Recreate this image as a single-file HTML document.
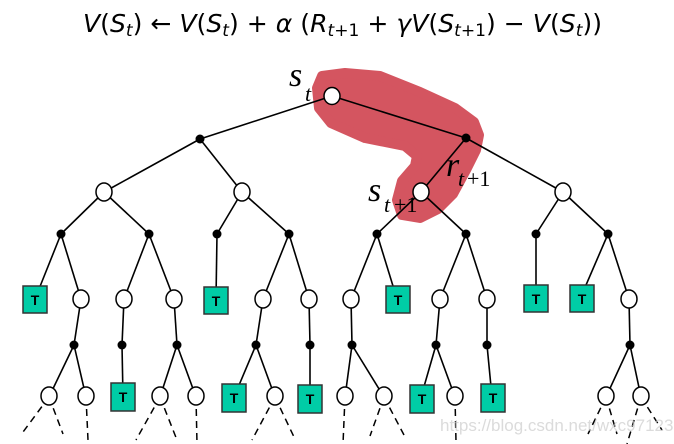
<!DOCTYPE html>
<html><head><meta charset="utf-8"><style>
html,body{margin:0;padding:0;background:#fff;}
svg{display:block;}
</style></head><body>
<svg width="674" height="444" viewBox="0 0 674 444" xmlns="http://www.w3.org/2000/svg">
<text x="83" y="32" font-family="DejaVu Sans, Liberation Sans, sans-serif" font-size="25" textLength="519" lengthAdjust="spacingAndGlyphs" fill="#000"><tspan font-style="italic">V</tspan>(<tspan font-style="italic">S</tspan><tspan font-size="17" dy="4" font-style="italic">t</tspan><tspan dy="-4">) ← </tspan><tspan font-style="italic">V</tspan>(<tspan font-style="italic">S</tspan><tspan font-size="17" dy="4" font-style="italic">t</tspan><tspan dy="-4">) + </tspan><tspan font-style="italic">α</tspan> (<tspan font-style="italic">R</tspan><tspan font-size="17" dy="4"><tspan font-style="italic">t</tspan>+1</tspan><tspan dy="-4"> + </tspan><tspan font-style="italic">γV</tspan>(<tspan font-style="italic">S</tspan><tspan font-size="17" dy="4"><tspan font-style="italic">t</tspan>+1</tspan><tspan dy="-4">) − </tspan><tspan font-style="italic">V</tspan>(<tspan font-style="italic">S</tspan><tspan font-size="17" dy="4" font-style="italic">t</tspan><tspan dy="-4">))</tspan></text>

<path d="M322,76 L345,73 L380,76 L420,92 L455,108 L474,122 L479,135 L476,150 L466,170 L453,194 L438,209 L420,218 L402,215 L397,200 L402,181 L415,166 L417,156 L405,146 L365,138 L331,123 L319,108 L317,88 Z" fill="#d45560" stroke="#d45560" stroke-width="10" stroke-linejoin="round"/>

<g stroke="#000" stroke-width="1.6" fill="none">
<line x1="332" y1="96" x2="200" y2="139"/><line x1="332" y1="96" x2="466" y2="138"/>
<line x1="200" y1="139" x2="104" y2="192"/><line x1="200" y1="139" x2="242" y2="192"/>
<line x1="466" y1="138" x2="421" y2="192"/><line x1="466" y1="138" x2="563" y2="192"/>
<line x1="104" y1="192" x2="61" y2="234"/><line x1="104" y1="192" x2="149" y2="234"/>
<line x1="242" y1="192" x2="217" y2="234"/><line x1="242" y1="192" x2="289" y2="234"/>
<line x1="421" y1="192" x2="377" y2="234"/><line x1="421" y1="192" x2="466" y2="234"/>
<line x1="563" y1="192" x2="536" y2="234"/><line x1="563" y1="192" x2="608" y2="234"/>
<line x1="61" y1="234" x2="35" y2="299"/><line x1="61" y1="234" x2="81" y2="299"/>
<line x1="149" y1="234" x2="124" y2="299"/><line x1="149" y1="234" x2="174" y2="299"/>
<line x1="217" y1="234" x2="216" y2="299"/>
<line x1="289" y1="234" x2="263" y2="299"/><line x1="289" y1="234" x2="309" y2="299"/>
<line x1="377" y1="234" x2="351" y2="299"/><line x1="377" y1="234" x2="397" y2="299"/>
<line x1="466" y1="234" x2="440" y2="299"/><line x1="466" y1="234" x2="487" y2="299"/>
<line x1="536" y1="234" x2="536" y2="299"/>
<line x1="608" y1="234" x2="580" y2="299"/><line x1="608" y1="234" x2="629" y2="299"/>
<line x1="81" y1="299" x2="74" y2="345"/><line x1="124" y1="299" x2="122" y2="345"/>
<line x1="174" y1="299" x2="177" y2="345"/><line x1="263" y1="299" x2="256" y2="345"/>
<line x1="309" y1="299" x2="310" y2="345"/><line x1="351" y1="299" x2="352" y2="345"/>
<line x1="440" y1="299" x2="436" y2="345"/><line x1="487" y1="299" x2="487" y2="345"/>
<line x1="629" y1="299" x2="630" y2="345"/>
<line x1="74" y1="345" x2="49" y2="397"/><line x1="74" y1="345" x2="86" y2="397"/>
<line x1="122" y1="345" x2="123" y2="397"/>
<line x1="177" y1="345" x2="160" y2="397"/><line x1="177" y1="345" x2="196" y2="397"/>
<line x1="256" y1="345" x2="234" y2="397"/><line x1="256" y1="345" x2="275" y2="397"/>
<line x1="310" y1="345" x2="310" y2="397"/>
<line x1="352" y1="345" x2="345" y2="397"/><line x1="352" y1="345" x2="384" y2="397"/>
<line x1="436" y1="345" x2="421" y2="397"/><line x1="436" y1="345" x2="455" y2="397"/>
<line x1="487" y1="345" x2="492" y2="397"/>
<line x1="630" y1="345" x2="606" y2="397"/><line x1="630" y1="345" x2="641" y2="397"/>
</g>
<g stroke="#000" stroke-width="1.5" stroke-dasharray="7,5" fill="none">
<line x1="49" y1="397" x2="23" y2="432"/><line x1="49" y1="397" x2="63" y2="434"/>
<line x1="86" y1="397" x2="88" y2="440"/>
<line x1="160" y1="397" x2="136" y2="440"/><line x1="160" y1="397" x2="177" y2="440"/>
<line x1="196" y1="397" x2="197" y2="444"/>
<line x1="275" y1="397" x2="252" y2="440"/><line x1="275" y1="397" x2="294" y2="437"/>
<line x1="345" y1="397" x2="343" y2="444"/>
<line x1="384" y1="397" x2="370" y2="436"/><line x1="384" y1="397" x2="404" y2="435"/>
<line x1="455" y1="397" x2="456" y2="442"/>
<line x1="606" y1="397" x2="588" y2="434"/><line x1="606" y1="397" x2="617" y2="434"/>
<line x1="641" y1="397" x2="627" y2="444"/><line x1="641" y1="397" x2="662" y2="430"/>
</g>

<g fill="#000">
<circle cx="200" cy="139" r="4.5"/><circle cx="466" cy="138" r="4.5"/>
<circle cx="61" cy="234" r="4.5"/><circle cx="149" cy="234" r="4.5"/><circle cx="217" cy="234" r="4.5"/><circle cx="289" cy="234" r="4.5"/>
<circle cx="377" cy="234" r="4.5"/><circle cx="466" cy="234" r="4.5"/><circle cx="536" cy="234" r="4.5"/><circle cx="608" cy="234" r="4.5"/>
<circle cx="74" cy="345" r="4.5"/><circle cx="122" cy="345" r="4.5"/><circle cx="177" cy="345" r="4.5"/><circle cx="256" cy="345" r="4.5"/>
<circle cx="310" cy="345" r="4.5"/><circle cx="352" cy="345" r="4.5"/><circle cx="436" cy="345" r="4.5"/><circle cx="487" cy="345" r="4.5"/><circle cx="630" cy="345" r="4.5"/>
</g>

<g fill="#fff" stroke="#000" stroke-width="1.5">
<ellipse cx="332" cy="96" rx="8" ry="8.5"/>
<ellipse cx="104" cy="192" rx="8" ry="9"/><ellipse cx="242" cy="192" rx="8" ry="9"/><ellipse cx="421" cy="192" rx="8" ry="9"/><ellipse cx="563" cy="192" rx="8" ry="9"/>
<ellipse cx="81" cy="299" rx="8" ry="9"/><ellipse cx="124" cy="299" rx="8" ry="9"/><ellipse cx="174" cy="299" rx="8" ry="9"/>
<ellipse cx="263" cy="299" rx="8" ry="9"/><ellipse cx="309" cy="299" rx="8" ry="9"/><ellipse cx="351" cy="299" rx="8" ry="9"/>
<ellipse cx="440" cy="299" rx="8" ry="9"/><ellipse cx="487" cy="299" rx="8" ry="9"/><ellipse cx="629" cy="299" rx="8" ry="9"/>
<ellipse cx="49" cy="396" rx="8" ry="9"/><ellipse cx="86" cy="396" rx="8" ry="9"/><ellipse cx="160" cy="396" rx="8" ry="9"/>
<ellipse cx="196" cy="396" rx="8" ry="9"/><ellipse cx="275" cy="396" rx="8" ry="9"/><ellipse cx="345" cy="396" rx="8" ry="9"/>
<ellipse cx="384" cy="396" rx="8" ry="9"/><ellipse cx="455" cy="396" rx="8" ry="9"/><ellipse cx="606" cy="396" rx="8" ry="9"/><ellipse cx="641" cy="396" rx="8" ry="9"/>
</g>

<g fill="#00cca6" stroke="#333" stroke-width="1.5">
<rect x="23" y="286" width="24" height="27"/><rect x="204" y="287" width="24" height="27"/>
<rect x="386" y="286" width="24" height="27"/><rect x="524" y="285" width="24" height="27"/><rect x="570" y="285" width="24" height="27"/>
<rect x="111" y="383" width="24" height="28"/><rect x="222" y="384" width="24" height="28"/><rect x="298" y="385" width="24" height="28"/>
<rect x="410" y="385" width="24" height="28"/><rect x="481" y="384" width="24" height="28"/>
</g>
<g font-family="Liberation Sans, sans-serif" font-weight="bold" font-size="14" fill="#000" text-anchor="middle">
<text x="35" y="305">T</text><text x="216" y="306">T</text><text x="398" y="305">T</text><text x="536" y="304">T</text><text x="582" y="304">T</text>
<text x="123" y="402">T</text><text x="234" y="403">T</text><text x="310" y="404">T</text><text x="422" y="404">T</text><text x="493" y="403">T</text>
</g>

<g font-family="Liberation Serif, serif" font-style="italic" fill="#000">
<text x="289" y="86" font-size="34">s</text><text x="305" y="101" font-size="22">t</text>
<text x="368" y="201" font-size="34">s</text><text x="384" y="212" font-size="22">t</text><text x="394" y="212" font-size="22" font-style="normal">+1</text>
<text x="446" y="176" font-size="34">r</text><text x="458" y="186" font-size="22">t</text><text x="467" y="186" font-size="22" font-style="normal">+1</text>
</g>
<text x="440" y="431" font-family="Liberation Sans, sans-serif" font-size="17" fill="#ccc" fill-opacity="0.7">https://blog.csdn.net/wxc971231</text>
</svg>
</body></html>
